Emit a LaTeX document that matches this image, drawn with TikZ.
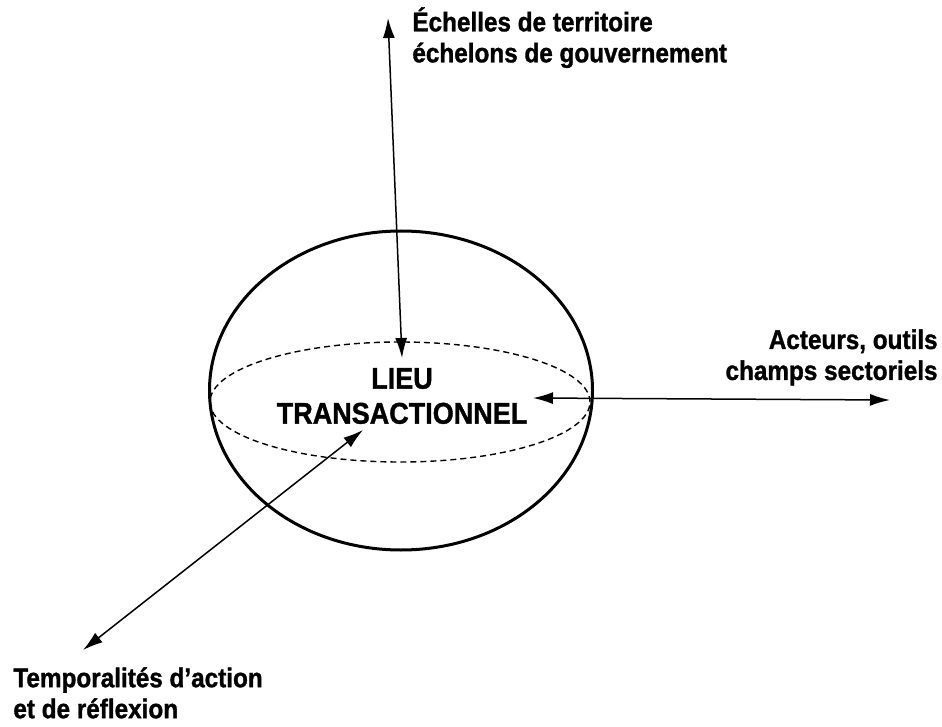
\documentclass[tikz,border=0pt]{standalone}
\usepackage{fontspec}
\setmainfont{Liberation Sans}[FakeStretch=0.9, BoldFeatures={FakeBold=1.2}]
\usepackage{tikz}
\usetikzlibrary{shapes.geometric,arrows.meta}

\begin{document}
\begin{tikzpicture}[x=0.5pt, y=-0.5pt,
    every node/.style={font=\bfseries, inner sep=0pt},
    sphere/.style={ellipse, draw, line width=1.5pt, minimum width=191.5pt, minimum height=159.5pt},
    equator/.style={ellipse, draw, dashed, dash pattern=on 3pt off 2pt, line width=0.7pt, minimum width=190pt, minimum height=60pt},
    centreText/.style={align=center, font=\bfseries\fontsize{15}{17.5}\selectfont},
    axisLabel/.style={font=\bfseries\fontsize{13.5}{15.5}\selectfont},
    axisLine/.style={draw, line width=0.75pt, {Latex[length=10pt,width=6pt]}-{Latex[length=10pt,width=6pt]}}
]
    \useasboundingbox (0,0) rectangle (942,727);

    % sphere and its equator
    \node [sphere] (ball) at (401,390.5) {};
    \node [equator] (eq) at (400,402) {};
    \node [centreText] (lieu) at (402,396) {LIEU\\TRANSACTIONNEL};

    % the three axes
    \node [axisLabel, align=left, anchor=north west] (echelles) at (412,7) {Échelles de territoire\\échelons de gouvernement};
    \node [axisLabel, align=right, anchor=north east] (acteurs) at (938,329) {Acteurs, outils\\champs sectoriels};
    \node [axisLabel, align=left, anchor=north west] (temps) at (13,667) {Temporalités d’action\\et de réflexion};

    \coordinate (upTip) at (388,18);
    \coordinate (upIn) at (402,358);
    \coordinate (rightIn) at (533,398);
    \coordinate (rightTip) at (890,400);
    \coordinate (diagIn) at (363,430);
    \coordinate (diagTip) at (83,650);

    \path [axisLine] (upTip) -- (upIn);
    \path [axisLine] (rightIn) -- (rightTip);
    \path [axisLine] (diagIn) -- (diagTip);
\end{tikzpicture}
\end{document}
